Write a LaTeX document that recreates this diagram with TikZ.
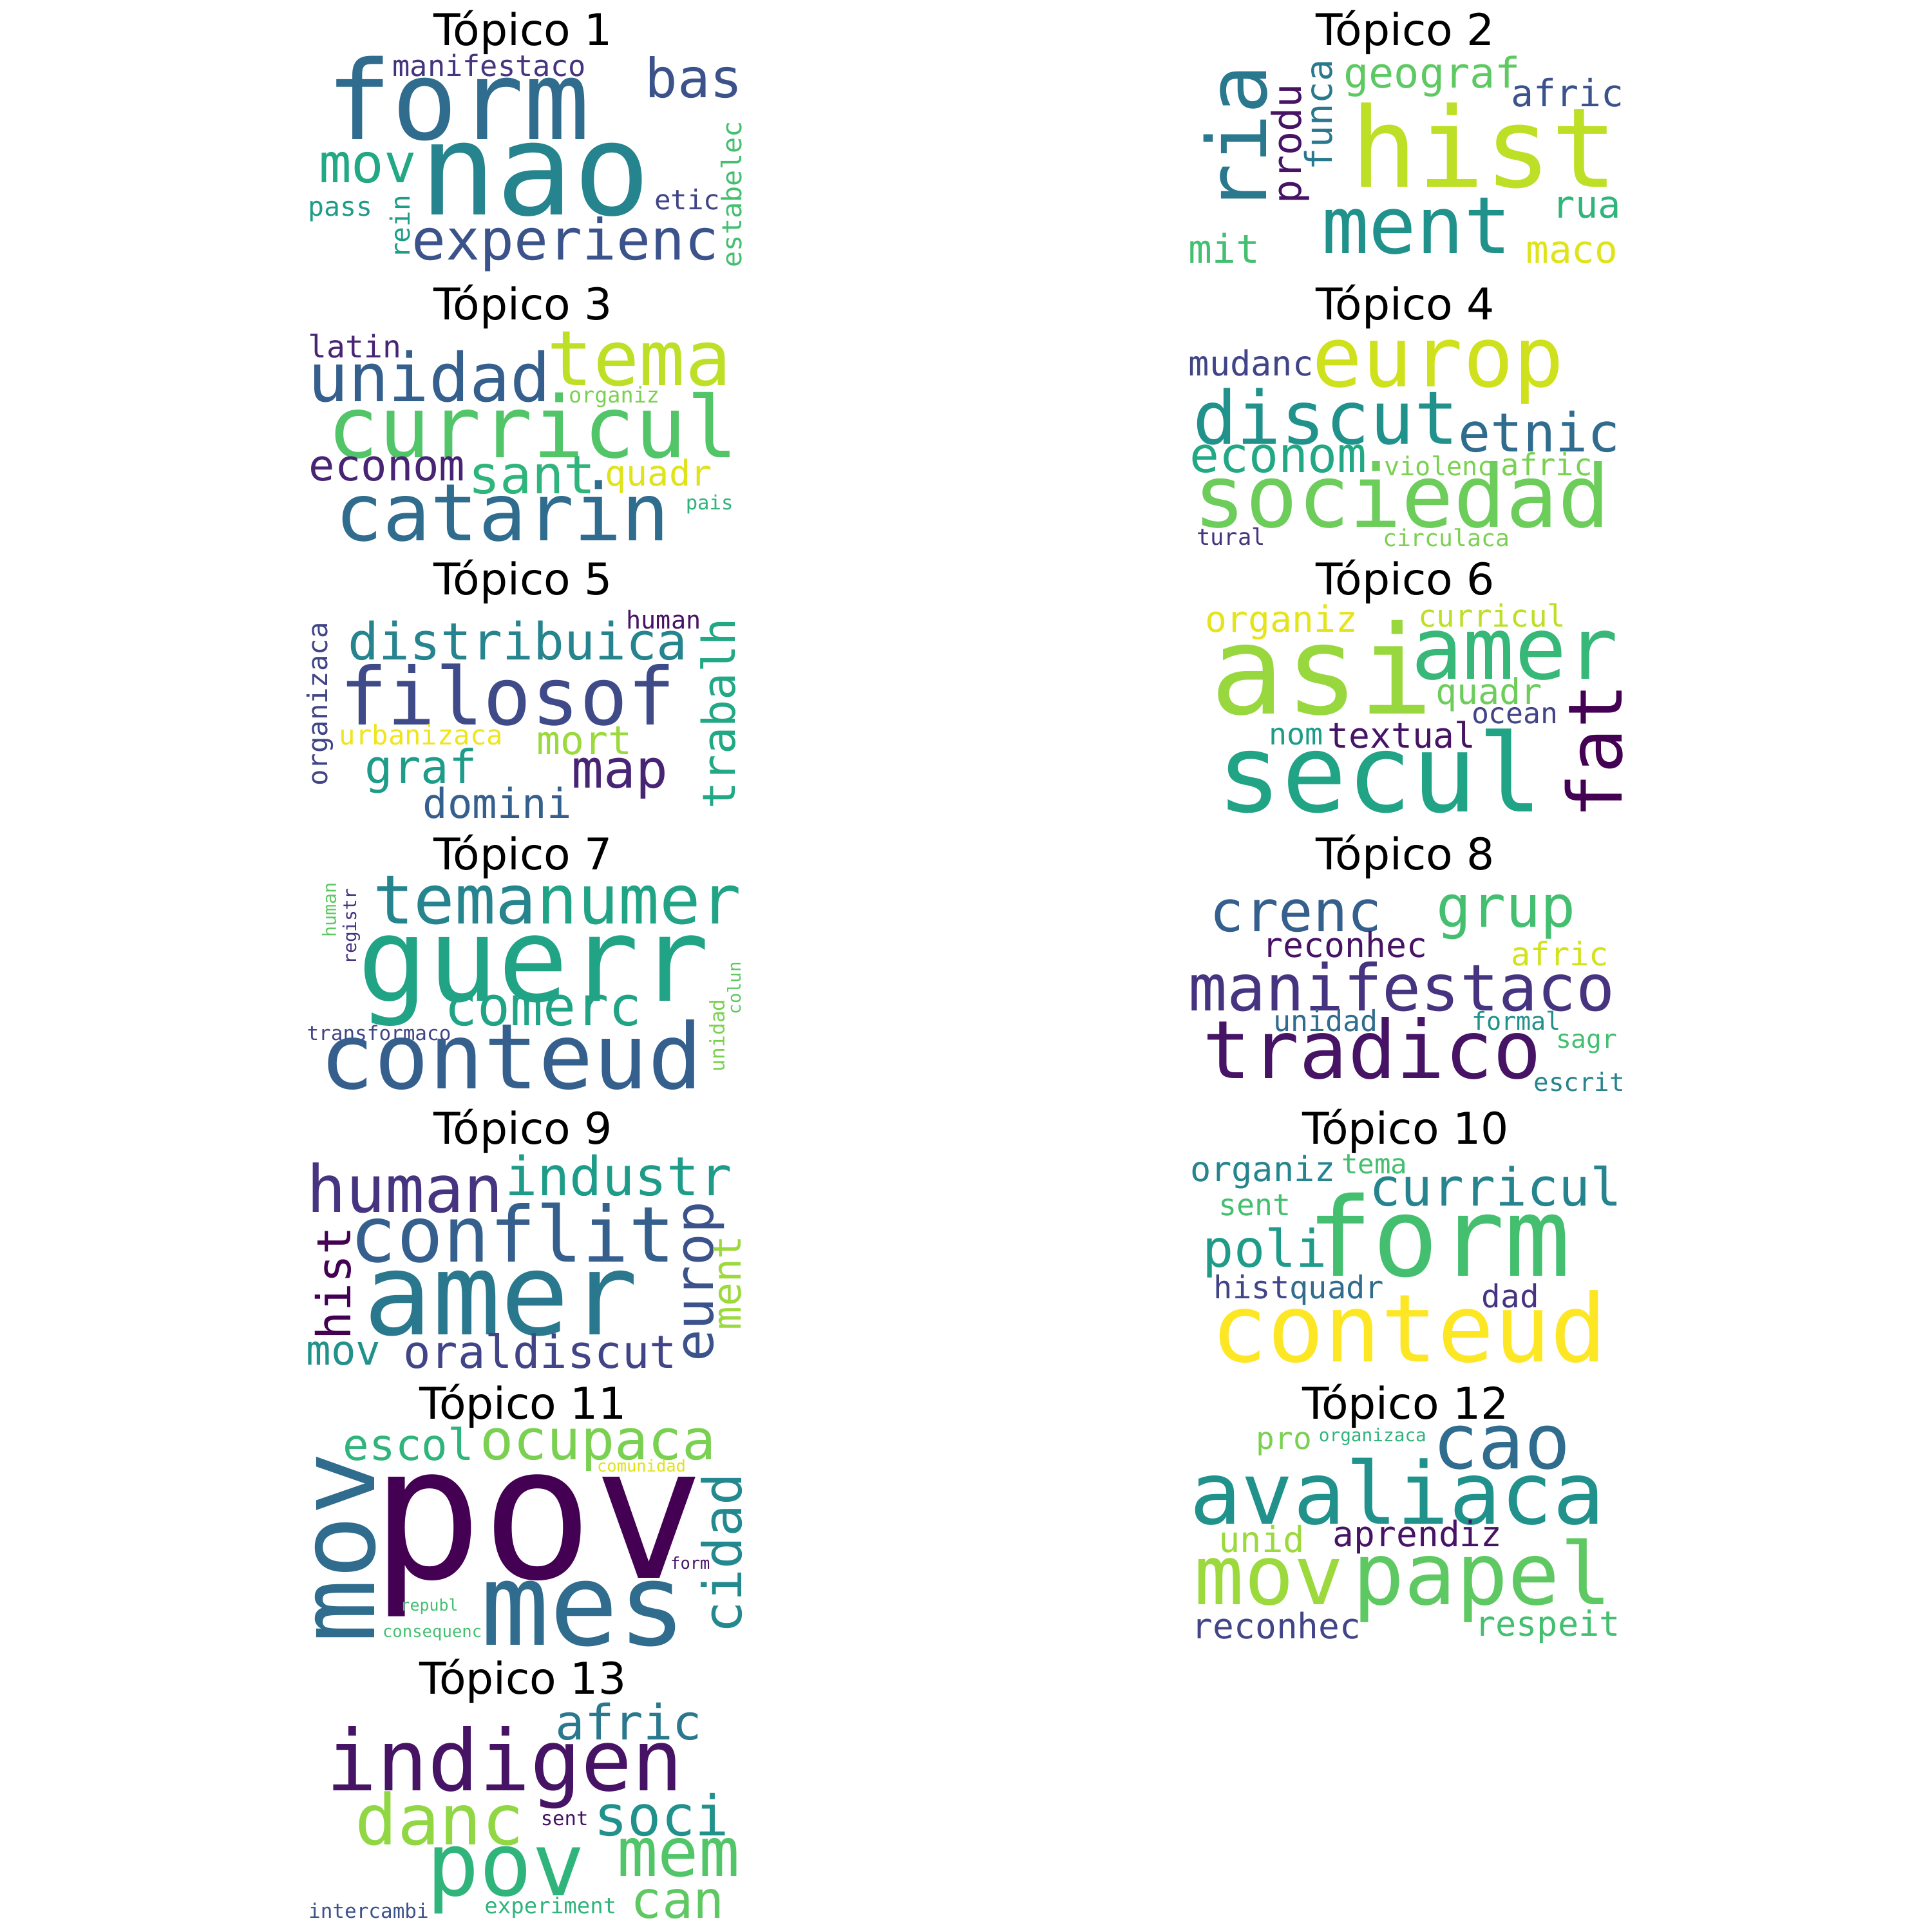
\documentclass[tikz,border=0pt]{standalone}
\usepackage{fontspec}
\newfontfamily\wcfont{DejaVu Sans Mono}
\newfontfamily\ttlfont{DejaVu Sans}
\definecolor{v00}{HTML}{440154}
\definecolor{v01}{HTML}{471365}
\definecolor{v02}{HTML}{482475}
\definecolor{v03}{HTML}{463480}
\definecolor{v04}{HTML}{414487}
\definecolor{v05}{HTML}{3B528B}
\definecolor{v06}{HTML}{355F8D}
\definecolor{v07}{HTML}{2F6C8E}
\definecolor{v08}{HTML}{2A788E}
\definecolor{v09}{HTML}{25848E}
\definecolor{v10}{HTML}{21918C}
\definecolor{v11}{HTML}{1E9C89}
\definecolor{v12}{HTML}{22A884}
\definecolor{v13}{HTML}{2FB47C}
\definecolor{v14}{HTML}{44BF70}
\definecolor{v15}{HTML}{5EC962}
\definecolor{v16}{HTML}{7AD151}
\definecolor{v17}{HTML}{9BD93C}
\definecolor{v18}{HTML}{BDDF26}
\definecolor{v19}{HTML}{DFE318}
\definecolor{v20}{HTML}{FDE725}
\definecolor{cA}{HTML}{52C569}
\definecolor{cB}{HTML}{CFE11C}
\definecolor{cC}{HTML}{6CCD5A}
\definecolor{cD}{HTML}{3F4A89}
\definecolor{cE}{HTML}{EFE51C}
\definecolor{cF}{HTML}{E5E419}
\definecolor{cG}{HTML}{98D83E}
\definecolor{cH}{HTML}{37B878}
\definecolor{cI}{HTML}{21A386}
\definecolor{cJ}{HTML}{D2E21B}
\definecolor{cK}{HTML}{23898E}
\definecolor{cL}{HTML}{90D743}
\tikzset{
  wc/.style={anchor=base, inner sep=0pt, outer sep=0pt},
  ttl/.style={anchor=base, inner sep=0pt, outer sep=0pt, text=black,
    font={\ttlfont\fontsize{35.5}{35.5}\selectfont}}
}
\newcommand\wcH[6]{\node[wc,text=#5,font={\wcfont\fontsize{#4}{#4}\selectfont}] (#1) at (#2,#3) {#6};}
\newcommand\wcV[6]{\node[wc,rotate=90,text=#5,font={\wcfont\fontsize{#4}{#4}\selectfont}] (#1) at (#2,#3) {#6};}
\begin{document}
\begin{tikzpicture}[x=1pt,y=-1pt]
\useasboundingbox[fill=white] (0,0) rectangle (1568,1568);
% titles
\node[ttl] (t1) at (424.5,36.6) {Tópico 1};
\node[ttl] (t2) at (1140.6,36.6) {Tópico 2};
\node[ttl] (t3) at (424.5,259.6) {Tópico 3};
\node[ttl] (t4) at (1140.6,259.6) {Tópico 4};
\node[ttl] (t5) at (424.5,482.6) {Tópico 5};
\node[ttl] (t6) at (1140.6,482.6) {Tópico 6};
\node[ttl] (t7) at (424.5,705.6) {Tópico 7};
\node[ttl] (t8) at (1140.6,705.6) {Tópico 8};
\node[ttl] (t9) at (424.5,928.6) {Tópico 9};
\node[ttl] (t10) at (1140.6,928.6) {Tópico 10};
\node[ttl] (t11) at (424.5,1151.6) {Tópico 11};
\node[ttl] (t12) at (1140.6,1151.6) {Tópico 12};
\node[ttl] (t13) at (424.5,1374.6) {Tópico 13};
% panel 1
\wcH{a1}{371.8}{113.3}{89}{v07}{form}
\wcH{a2}{434.2}{174.2}{104}{v09}{nao}
\wcH{a3}{397}{61.9}{23.7}{v03}{manifestaco}
\wcH{a4}{563.2}{79.3}{44}{v05}{bas}
\wcH{a5}{298.6}{148.1}{44}{v12}{mov}
\wcH{a6}{276.4}{175.1}{21.7}{v11}{pass}
\wcV{a7}{332.8}{184.2}{21.5}{v11}{rein}
\wcH{a8}{458.8}{210.8}{46}{v05}{experienc}
\wcH{a9}{557.8}{169.9}{22.2}{v04}{etic}
\wcV{a10}{601.6}{157.7}{21.9}{v14}{estabelec}
% panel 2
\wcV{b1}{1028}{112.8}{67}{v08}{ria}
\wcV{b2}{1056.1}{116.7}{32.2}{v01}{produ}
\wcV{b3}{1081.3}{93.2}{29.8}{v08}{funca}
\wcH{b4}{1162.3}{71.4}{34.1}{v15}{geograf}
\wcH{b5}{1272.1}{86.3}{30.4}{v05}{afric}
\wcH{b6}{1204.9}{151.6}{90}{v18}{hist}
\wcH{b7}{1149.7}{205.6}{64.1}{v10}{ment}
\wcH{b8}{1287.7}{176.8}{30.7}{v13}{rua}
\wcH{b9}{993.7}{213.4}{32}{v14}{mit}
\wcH{b10}{1275.7}{213.4}{31}{v19}{maco}
% panel 3
\wcH{c1}{287.8}{290.1}{25.1}{v02}{latin}
\wcH{c2}{348.4}{325.8}{54.5}{v06}{unidad}
\wcH{c3}{518.8}{312.7}{62}{v18}{tema}
\wcH{c4}{498.4}{326.7}{17.5}{v16}{organiz}
\wcH{c5}{432.4}{371.1}{69.2}{cA}{curricul}
\wcH{c6}{314.2}{390.3}{35.1}{v02}{econom}
\wcH{c7}{431.8}{400.7}{42.9}{v13}{sant}
\wcH{c8}{534.4}{394.6}{28.8}{v19}{quadr}
\wcH{c9}{575.8}{413.8}{16}{v13}{pais}
\wcH{c10}{407.8}{439}{64.4}{v07}{catarin}
% panel 4
\wcH{d1}{1167.1}{313.6}{67.8}{cB}{europ}
\wcH{d2}{1015.3}{304.9}{28}{v04}{mudanc}
\wcH{d3}{1075.9}{360.6}{59.7}{v10}{discut}
\wcH{d4}{1249.3}{366.7}{43.6}{v07}{etnic}
\wcH{d5}{1037.5}{383.3}{39.9}{v12}{econom}
\wcH{d6}{1167.7}{385.9}{21}{v16}{violenc}
\wcH{d7}{1255.3}{385.9}{24.7}{v16}{afric}
\wcH{d8}{1137.7}{427.7}{70.2}{cC}{sociedad}
\wcH{d9}{999.1}{442.5}{18.5}{v03}{tural}
\wcH{d10}{1173.7}{443.4}{19}{v16}{circulaca}
% panel 5
\wcH{e1}{538.6}{510.5}{20.1}{v01}{human}
\wcH{e2}{420.4}{535.7}{41.6}{v09}{distribuica}
\wcV{e3}{265.6}{571.5}{22.1}{v04}{organizaca}
\wcV{e4}{596.8}{579.3}{36.8}{v12}{trabalh}
\wcH{e5}{412}{588}{64.7}{cD}{filosof}
\wcH{e6}{341.8}{604.6}{22.1}{cE}{urbanizaca}
\wcH{e7}{474.4}{612.4}{32.1}{v17}{mort}
\wcH{e8}{341.8}{635.9}{37.8}{v11}{graf}
\wcH{e9}{503.2}{639.4}{43.3}{v02}{map}
\wcH{e10}{403.6}{663.8}{33.4}{v06}{domini}
% panel 6
\wcH{f1}{1039.9}{513.1}{29.4}{cF}{organiz}
\wcH{f2}{1210.9}{508.7}{24.9}{v18}{curricul}
\wcH{f3}{1072.9}{579.3}{100}{cG}{asi}
\wcH{f4}{1229.5}{551.4}{69.8}{cH}{amer}
\wcH{f5}{1208.5}{571.5}{28.8}{cC}{quadr}
\wcH{f6}{1229.5}{587.1}{23.4}{v04}{ocean}
\wcV{f7}{1316.5}{609.8}{60.8}{v00}{fat}
\wcH{f8}{1051.9}{604.6}{24.4}{v11}{nom}
\wcH{f9}{1137.7}{607.2}{28.5}{v01}{textual}
\wcH{f10}{1119.7}{658.6}{87.9}{cI}{secul}
% panel 7
\wcV{g1}{272.8}{738.4}{14.9}{v15}{human}
\wcV{g2}{289.1}{751.9}{14.6}{v03}{registr}
\wcH{g3}{369.1}{749.7}{55.2}{v09}{tema}
\wcH{g4}{518.7}{749.7}{55.2}{cI}{numer}
\wcH{g5}{433}{812.4}{94.9}{cI}{guerr}
\wcH{g6}{440.8}{832.4}{44.3}{cI}{comerc}
\wcH{g7}{307.6}{844.6}{16.2}{v04}{transformaco}
\wcH{g8}{415}{883.8}{73.7}{v06}{conteud}
\wcV{g9}{587.9}{840.3}{16.3}{v16}{unidad}
\wcV{g10}{601.1}{801.9}{14.3}{v15}{colun}
% panel 8
\wcH{h1}{1051.9}{755.8}{46.4}{v06}{crenc}
\wcH{h2}{1222.3}{752.3}{47}{v14}{grup}
\wcH{h3}{1091.5}{776.7}{27.7}{v01}{reconhec}
\wcH{h4}{1266.1}{783.6}{26.3}{cJ}{afric}
\wcH{h5}{1137.7}{820.2}{52.3}{v03}{manifestaco}
\wcH{h6}{1075.9}{836.8}{23.5}{v07}{unidad}
\wcH{h7}{1230.7}{835.9}{20.1}{v10}{formal}
\wcH{h8}{1113.7}{875.1}{65.3}{v01}{tradico}
\wcH{h9}{1287.7}{850.7}{20.7}{v14}{sagr}
\wcH{h10}{1281.7}{885.6}{20.5}{v09}{escrit}
% panel 9
\wcH{i1}{328.6}{984}{53}{v03}{human}
\wcH{i2}{502}{970.1}{43.7}{v11}{industr}
\wcH{i3}{416.2}{1024.1}{62.6}{v06}{conflit}
\wcV{i4}{284.8}{1041.5}{38}{v00}{hist}
\wcH{i5}{406.6}{1083.3}{92.6}{v08}{amer}
\wcV{i6}{578.6}{1040.2}{43.3}{v05}{europ}
\wcV{i7}{601.1}{1041.1}{31.9}{v17}{ment}
\wcH{i8}{278.8}{1107.7}{33.5}{v10}{mov}
\wcH{i9}{438.4}{1110.3}{36.9}{v04}{oraldiscut}
% panel 10
\wcH{j1}{1024.9}{958.7}{28}{v09}{organiz}
\wcH{j2}{1115.5}{952.6}{22.2}{v14}{tema}
\wcH{j3}{1213.9}{978.8}{42.5}{v09}{curricul}
\wcH{j4}{1018.3}{986.6}{24.3}{v14}{sent}
\wcH{j5}{1167.7}{1035.4}{89}{v14}{form}
\wcH{j6}{1026.7}{1028.4}{41.9}{v11}{poli}
\wcH{j7}{1015.9}{1053.7}{25.5}{v04}{hist}
\wcH{j8}{1085.0}{1053.7}{25.5}{v07}{quadr}
\wcH{j9}{1225.9}{1061.5}{25.8}{v03}{dad}
\wcH{j10}{1143.7}{1105.1}{76.3}{v20}{conteud}
% panel 11
\wcH{k1}{331.6}{1185.2}{35.3}{v13}{escol}
\wcH{k2}{485.2}{1184.4}{45.4}{v16}{ocupaca}
\wcH{k3}{520.6}{1194.8}{13.3}{v19}{comunidad}
\wcV{k4}{304}{1255.8}{86.1}{v07}{mov}
\wcH{k5}{436.6}{1281}{150}{v00}{pov}
\wcV{k6}{601.6}{1260.6}{43.3}{cK}{cidad}
\wcH{k7}{560.2}{1273.2}{13.3}{v01}{form}
\wcH{k8}{473.8}{1335}{92.8}{v07}{mes}
\wcH{k9}{348.4}{1307.2}{13}{v14}{republ}
\wcH{k10}{350.8}{1329}{13.4}{v14}{consequenc}
% panel 12
\wcH{l1}{1042}{1176}{25}{v16}{pro}
\wcH{l2}{1114}{1170}{14.5}{v13}{organizaca}
\wcH{l3}{1218.5}{1192}{62}{v07}{cao}
\wcH{l4}{1134}{1237}{70}{v10}{avaliaca}
\wcH{l5}{1024}{1260}{29}{v17}{unid}
\wcH{l6}{1150.5}{1255}{28.5}{v01}{aprendiz}
\wcH{l7}{1030}{1302}{67}{v17}{mov}
\wcH{l8}{1203}{1302}{70}{v15}{papel}
\wcH{l9}{1036}{1330}{28.5}{v04}{reconhec}
\wcH{l10}{1256}{1328}{28}{v14}{respeit}
% panel 13
\wcH{m1}{409.6}{1453}{68.8}{v01}{indigen}
\wcH{m2}{510.4}{1412.1}{39.5}{v08}{afric}
\wcH{m3}{356.8}{1497.4}{56.9}{cL}{danc}
\wcH{m4}{458.2}{1481.7}{16}{v01}{sent}
\wcH{m5}{536.8}{1489.6}{45.5}{v10}{soci}
\wcH{m6}{410.8}{1538.4}{71.2}{v13}{pov}
\wcH{m7}{550.6}{1522.7}{55.1}{cA}{mem}
\wcH{m8}{550}{1556.6}{41.9}{v15}{can}
\wcH{m9}{299.2}{1556.6}{16.2}{v05}{intercambi}
\wcH{m10}{446.8}{1553.2}{17.8}{v13}{experiment}
\end{tikzpicture}
\end{document}
